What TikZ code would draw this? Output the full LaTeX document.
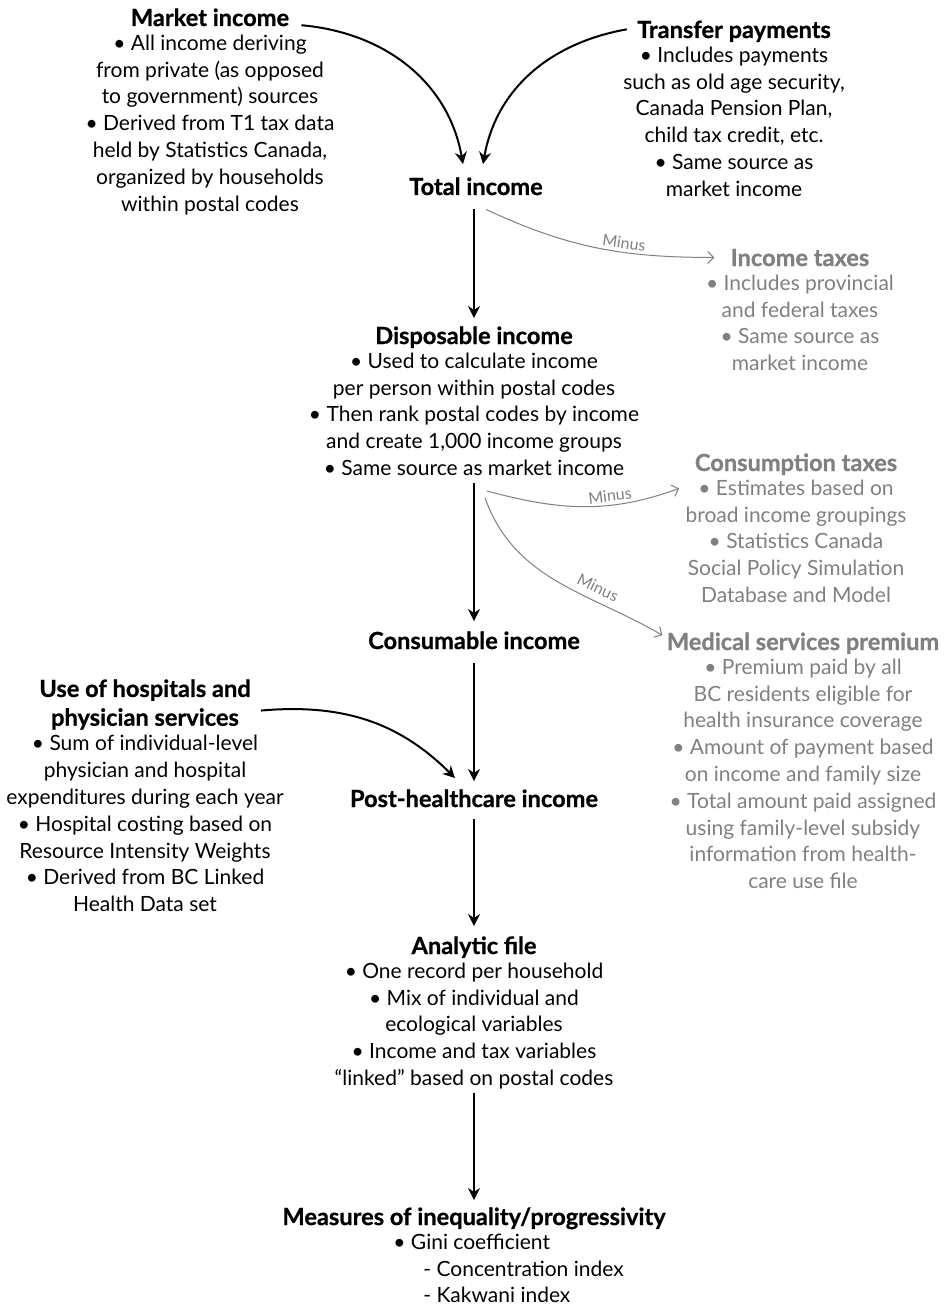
\documentclass[tikz,border=0pt]{standalone}
\usepackage{fontspec}
\setmainfont{Lato}[BoldFeatures={FakeBold=0.8}]
\usetikzlibrary{arrows.meta,positioning}
\definecolor{sidegray}{RGB}{128,128,128}

\begin{document}
\begin{tikzpicture}[
  x=0.5pt, y=-0.5pt,
  font=\fontsize{10.5}{13.4}\selectfont,
  hfont/.style={font=\bfseries\fontsize{11.8}{13.4}\selectfont},
  head/.style={hfont, inner sep=0pt, text depth=0pt, anchor=base},
  note/.style={align=center, inner sep=0pt},
  side/.style={text=sidegray},
  flow/.style={-{Stealth[length=6pt,width=6pt]}, line width=1pt},
  minus/.style={-{Straight Barb[length=3pt,width=6pt]}, line width=0.5pt, sidegray},
  lbl/.style={font=\fontsize{8}{9}\selectfont, text=sidegray, inner sep=1.5pt}
]
\useasboundingbox (0,0) rectangle (945,1305);

% income sources
\node[head] (mkt) at (210,26) {Market income};
\node[note, below=4pt of mkt] (mktb) {\textbullet\ All income deriving\\from private (as opposed\\to government) sources\\\textbullet\ Derived from T1 tax data\\held by Statistics Canada,\\organized by households\\within postal codes};
\node[head] (trf) at (734,38) {Transfer payments};
\node[note, below=4pt of trf] (trfb) {\textbullet\ Includes payments\\such as old age security,\\Canada Pension Plan,\\child tax credit, etc.\\\textbullet\ Same source as\\market income};

% main column
\node[head] (tot) at (476,195) {Total income};
\node[head] (disp) at (474,344) {Disposable income};
\node[note, below=4pt of disp] (dispb) {\textbullet\ Used to calculate income\\per person within postal codes\\\textbullet\ Then rank postal codes by income\\and create 1,000 income groups\\\textbullet\ Same source as market income};
\node[head] (cons) at (474,649) {Consumable income};
\node[head] (post) at (474,807) {Post-healthcare income};
\node[head] (anl) at (474,954) {Analytic file};
\node[note, below=4pt of anl] (anlb) {\textbullet\ One record per household\\\textbullet\ Mix of individual and\\ecological variables\\\textbullet\ Income and tax variables\\``linked'' based on postal codes};
\node[head] (meas) at (474,1225) {Measures of inequality/progressivity};
\node[note, align=left, anchor=north west] (measb) at ([xshift=-40.5pt,yshift=-4pt]meas.south) {\textbullet\ Gini coefficient\\\hspace{15pt}- Concentration index\\\hspace{15pt}- Kakwani index};

% deductions
\node[head, side] (itax) at (800,266) {Income taxes};
\node[note, side, below=4pt of itax] (itaxb) {\textbullet\ Includes provincial\\and federal taxes\\\textbullet\ Same source as\\market income};
\node[head, side] (ctax) at (796,471) {Consumption taxes};
\node[note, side, below=4pt of ctax] (ctaxb) {\textbullet\ Estimates based on\\broad income groupings\\\textbullet\ Statistics Canada\\Social Policy Simulation\\Database and Model};
\node[head, side] (msp) at (803,650) {Medical services premium};
\node[note, side, below=4pt of msp] (mspb) {\textbullet\ Premium paid by all\\BC residents eligible for\\health insurance coverage\\\textbullet\ Amount of payment based\\on income and family size\\\textbullet\ Total amount paid assigned\\using family-level subsidy\\information from health-\\care use file};

% health care use
\node[note, hfont, anchor=north] (hosp) at (145,679) {Use of hospitals and\\[1pt]physician services};
\node[note, below=2.5pt of hosp] (hospb) {\textbullet\ Sum of individual-level\\physician and hospital\\expenditures during each year\\\textbullet\ Hospital costing based on\\Resource Intensity Weights\\\textbullet\ Derived from BC Linked\\Health Data set};

% connectors
\draw[flow] ([xshift=6pt,yshift=-4pt]mkt.east) to[out=-5, in=100] ([xshift=-6.5pt,yshift=6.5pt]tot.north);
\draw[flow] ([xshift=-5pt]trf.west) to[out=190, in=80] ([xshift=3.5pt,yshift=6.5pt]tot.north);
\draw[flow] ([xshift=-1pt,yshift=-7pt]tot.south) -- ([yshift=4pt]disp.north);
\draw[flow] ([yshift=-3.5pt]dispb.south) -- ([yshift=5pt]cons.north);
\draw[flow] ([yshift=-7pt]cons.south) -- ([yshift=4pt]post.north);
\draw[flow] ([yshift=-6pt]post.south) -- ([yshift=5pt]anl.north);
\draw[flow] ([yshift=-2pt]anlb.south) -- ([yshift=3.5pt]meas.north);
\draw[flow] ([xshift=5pt,yshift=-3pt]hosp.east) to[out=5, in=135] ([xshift=-9.5pt,yshift=5.5pt]post.north);

\draw[minus] ([xshift=5pt,yshift=-7pt]tot.south) to[out=-25, in=180] node[lbl, pos=0.62, above, sloped] {Minus} ([xshift=-8pt]itax.west);
\draw[minus] ([xshift=6.5pt,yshift=-7.5pt]dispb.south) to[out=-15, in=200] node[lbl, pos=0.65, above, sloped] {Minus} ([xshift=-3pt,yshift=-4.5pt]ctaxb.north west);
\draw[minus] ([xshift=5.5pt,yshift=-11pt]dispb.south) to[out=-70, in=150] node[lbl, pos=0.68, above=2pt, sloped] {Minus} ([xshift=-2pt,yshift=3pt]msp.west);
\end{tikzpicture}
\end{document}
